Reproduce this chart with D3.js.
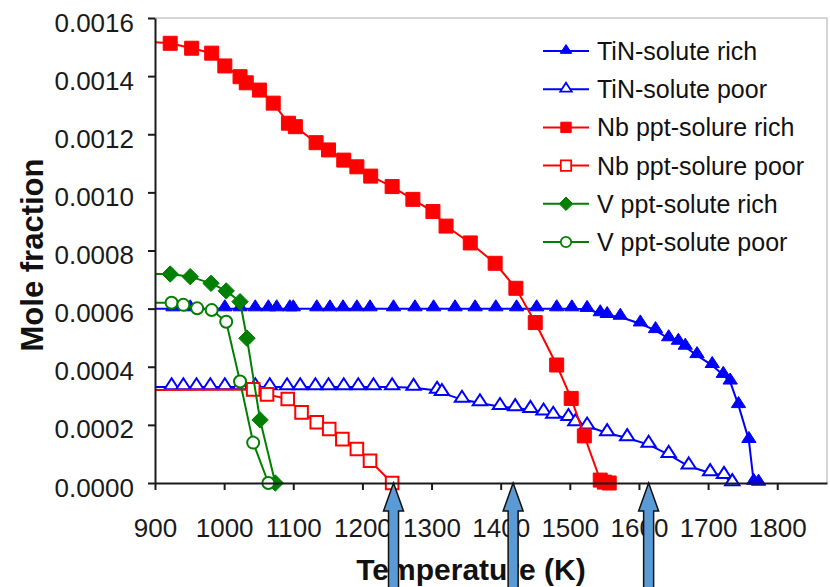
<!DOCTYPE html>
<html><head><meta charset="utf-8">
<script src="https://cdn.jsdelivr.net/npm/d3@7"></script>
<style>body{margin:0;background:#fff;} svg{display:block;}</style>
</head><body>
<svg id="chart" width="830" height="587"></svg>
<script>
// ---- data ----
const xTicks = [900,1000,1100,1200,1300,1400,1500,1600,1700,1800];
const yTicks = [0,0.0002,0.0004,0.0006,0.0008,0.0010,0.0012,0.0014,0.0016];

const tinRichT = [880,926,951,1001,1023,1045,1064,1076,1095,1100,1134,1153,1172,1192,1211,1245,1276,1303,1334,1363,1393,1423,1452,1481,1503,1525,1544,1554,1573,1602,1624,1643,1657,1667,1684,1706,1722,1732,1744,1759,1766,1773];
const tinRichV = [0.0006,0.0006,0.0006,0.0006,0.0006,0.0006,0.0006,0.0006,0.0006,0.0006,0.0006,0.0006,0.0006,0.0006,0.0006,0.0006,0.0006,0.0006,0.0006,0.0006,0.0006,0.0006,0.0006,0.0006,0.0006,0.000598,0.000583,0.000577,0.000571,0.000548,0.000525,0.000497,0.000485,0.000468,0.000439,0.000405,0.000371,0.000348,0.000267,0.000147,0.000003,0];

const tinPoorT = [880,924,941,960,980,1001,1023,1045,1066,1091,1110,1132,1151,1173,1194,1216,1243,1274,1308,1315,1344,1370,1399,1421,1443,1462,1476,1498,1508,1525,1554,1583,1614,1643,1672,1703,1723,1735];
const tinPoorV = [0.00033,0.00033,0.00033,0.00033,0.00033,0.00033,0.00033,0.00033,0.00033,0.00033,0.00033,0.00033,0.00033,0.00033,0.00033,0.00033,0.00033,0.000328,0.000318,0.00031,0.000287,0.000275,0.000262,0.000258,0.000252,0.000243,0.000232,0.000224,0.000206,0.000195,0.000172,0.000155,0.000132,0.0000974,0.0000575,0.0000344,0.0000251,0];

const nbRichT = [880,922,953,982,1001,1023,1032,1051,1071,1093,1103,1133,1151,1173,1192,1212,1243,1273,1302,1321,1356,1392,1422,1450,1481,1502,1521,1544,1550,1557];
const nbRichV = [0.00152,0.001513,0.001496,0.001479,0.001435,0.001398,0.001377,0.001352,0.001307,0.001238,0.001226,0.001171,0.001146,0.001111,0.001088,0.001056,0.00102,0.000976,0.000934,0.000884,0.000826,0.000756,0.00067,0.000552,0.000406,0.000291,0.000162,0.00001,0.000003,0];

const nbPoorT = [880,1042,1062,1092,1112,1134,1152,1171,1192,1211,1243];
const nbPoorV = [0.00032,0.000322,0.000305,0.000289,0.000243,0.000209,0.000186,0.000151,0.000117,0.0000767,0];

const vRichT = [880,922,951,981,1003,1023,1033,1052,1074];
const vRichV = [0.00072,0.000719,0.00071,0.000687,0.000661,0.000624,0.000498,0.000217,0];

const vPoorT = [880,924,941,961,982,1003,1023,1042,1064];
const vPoorV = [0.00062,0.00062,0.000613,0.000601,0.000595,0.000555,0.000349,0.000139,0];

const arrowT = [1245,1418,1614];

const seriesNames = ["TiN-solute rich","TiN-solute poor","Nb ppt-solure rich","Nb ppt-solure poor","V ppt-solute rich","V ppt-solute poor"];
const seriesColors = ["#0000ff","#0000ff","#ff0000","#ff0000","#008000","#008000"];
const seriesMarkers = ["triangle","triangle","square","square","diamond","circle"];
const seriesFilled = [true,false,true,false,true,false];
const seriesT = [tinRichT,tinPoorT,nbRichT,nbPoorT,vRichT,vPoorT];
const seriesV = [tinRichV,tinPoorV,nbRichV,nbPoorV,vRichV,vPoorV];

// ---- layout ----
const svg = d3.select("#chart");
const L = 155, R = 827, T = 18, B = 483;
const x = d3.scaleLinear().domain([900, 1872]).range([L, R]);
const y = d3.scaleLinear().domain([0, 0.0016]).range([B, T]);
const font = "'Liberation Sans', Arial, sans-serif";

svg.append("path").attr("d", `M${L},${T}H${R}V${B}`).attr("fill","none").attr("stroke","#c8c8c8").attr("stroke-width",1.5);

svg.append("defs").append("clipPath").attr("id","clip")
  .append("rect").attr("x", L).attr("y", 0).attr("width", R - L).attr("height", 587);

function markerPath(type, s) {
  if (type === "square") return `M${-s},${-s}H${s}V${s}H${-s}Z`;
  if (type === "diamond") { const d = s*1.3; return `M0,${-d}L${d},0L0,${d}L${-d},0Z`; }
  if (type === "triangle") { const h = s*1.7; return `M0,${-h*0.62}L${s*1.1},${h*0.38}L${-s*1.1},${h*0.38}Z`; }
  return d3.symbol().type(d3.symbolCircle).size(Math.PI*s*s)();
}

const line = d3.line().x(d => x(d[0])).y(d => y(d[1]));

seriesNames.forEach((name, i) => {
  const pts = seriesT[i].map((t, j) => [t, seriesV[i][j]]);
  const g = svg.append("g");
  g.append("path").attr("d", line(pts)).attr("clip-path","url(#clip)")
    .attr("fill","none").attr("stroke", seriesColors[i]).attr("stroke-width", 2);
  const mk = seriesMarkers[i];
  const s = mk === "triangle" ? 6.5 : (mk === "circle" ? 6 : (mk === "square" ? (seriesFilled[i] ? 7 : 6.3) : 6.3));
  g.selectAll("path.m").data(pts.filter(p => p[0] >= 900)).join("path").attr("class","m")
    .attr("transform", d => `translate(${x(d[0])},${y(d[1]) + (mk==="triangle" ? -2 : 0)})`)
    .attr("d", markerPath(mk, s))
    .attr("fill", seriesFilled[i] ? seriesColors[i] : "#fff")
    .attr("stroke", seriesColors[i]).attr("stroke-width", seriesFilled[i] ? 1 : 2);
});

// axes
const xAxis = svg.append("g").attr("transform", `translate(0,${B})`)
  .call(d3.axisBottom(x).tickValues(xTicks).tickFormat(d3.format("d")).tickSize(7).tickSizeOuter(0).tickPadding(29));
const yAxis = svg.append("g").attr("transform", `translate(${L},0)`)
  .call(d3.axisLeft(y).tickValues(yTicks).tickFormat(d3.format(".4f")).tickSize(7).tickSizeOuter(0).tickPadding(14));
[xAxis, yAxis].forEach(a => {
  a.select(".domain").attr("stroke","#1a1a1a").attr("stroke-width",2);
  a.selectAll(".tick line").attr("stroke","#1a1a1a").attr("stroke-width",2);
  a.selectAll(".tick text").attr("font-family", font).attr("font-size", 26).attr("fill","#1a1a1a");
});
yAxis.selectAll(".tick text").attr("dy","0.5em");

// axis titles
svg.append("text").attr("x", 471).attr("y", 580).attr("text-anchor","middle")
  .attr("font-family", font).attr("font-weight","bold").attr("font-size", 30).attr("fill","#111")
  .text("Temperature (K)");
svg.append("text").attr("transform","translate(43,255) rotate(-90)").attr("text-anchor","middle")
  .attr("font-family", font).attr("font-weight","bold").attr("font-size", 31).attr("fill","#111")
  .text("Mole fraction");

// legend
const lg = svg.append("g");
seriesNames.forEach((name, i) => {
  const cy = 51 + i * 38.2;
  lg.append("line").attr("x1", 543).attr("x2", 589).attr("y1", cy).attr("y2", cy)
    .attr("stroke", seriesColors[i]).attr("stroke-width", 2);
  lg.append("path").attr("transform", `translate(566,${cy + (seriesMarkers[i]==="triangle" ? -1 : 0)})`)
    .attr("d", markerPath(seriesMarkers[i], 5.2))
    .attr("fill", seriesFilled[i] ? seriesColors[i] : "#fff")
    .attr("stroke", seriesColors[i]).attr("stroke-width", seriesFilled[i] ? 1 : 1.8);
  lg.append("text").attr("x", 597).attr("y", cy + 9).attr("font-family", font).attr("font-size", 25)
    .attr("fill","#111").text(name);
});

// annotation arrows
const ag = svg.append("g");
arrowT.forEach(t => {
  const ax = x(t), tip = y(0);
  ag.append("path")
    .attr("d", `M${ax},${tip}L${ax+10},${tip+28}L${ax+5},${tip+28}L${ax+5},592L${ax-5},592L${ax-5},${tip+28}L${ax-10},${tip+28}Z`)
    .attr("fill","#5b9bd5").attr("stroke","#111").attr("stroke-width",1.5).attr("stroke-linejoin","miter");
});
</script>
</body></html>
